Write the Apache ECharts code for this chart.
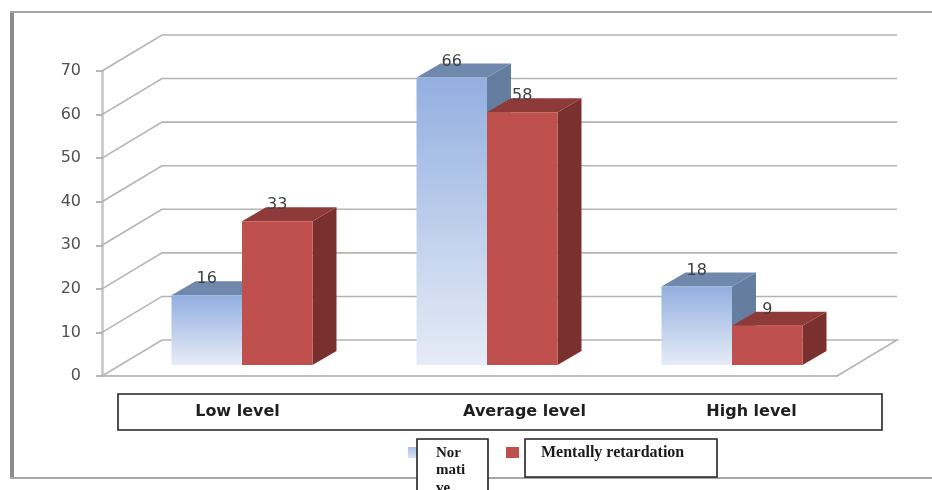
<!DOCTYPE html>
<html>
<head>
<meta charset="utf-8">
<style>html,body{margin:0;padding:0;background:#fff}#chart{width:932px;height:490px}</style>
<script src="https://cdn.jsdelivr.net/npm/echarts@6/dist/echarts.min.js"></script>
</head>
<body>
<div id="chart"></div>
<script>
// Scores per level for the two groups
const categories = ['Low level', 'Average level', 'High level'];
const normativeValues = [16, 66, 18];
const retardationValues = [33, 58, 9];
const normativeLines = ['Nor', 'mati', 've'];
const retardationName = 'Mentally retardation';
const wallTicks = [0, 10, 20, 30, 40, 50, 60, 70];
// Horizontal nudge of each category label inside its box, in pixels
const labelShift = [13, 55, 37];

// Oblique projection of the box: wall depth, and the depth at which the bars stand
const WALL = { dx: 60, dy: -36 };
const STAND = { dx: 17.5, dy: -11 };
const DEPTH = { dx: 24, dy: -14 };
const BAR_W = 70.5;

const chart = echarts.init(document.getElementById('chart'), null, { renderer: 'canvas' });

function linear(top, bottom) {
  return { type: 'linear', x: 0, y: 0, x2: 0, y2: 1,
    colorStops: [{ offset: 0, color: top }, { offset: 1, color: bottom }] };
}

// One oblique bar: front, top and side faces plus its value label
function barRenderer(side, front, topFace, sideFace) {
  return function (params, api) {
    const idx = api.value(0), val = api.value(1);
    const p = api.coord([idx, val]);
    const base = api.coord([idx, 0]);
    const x0 = p[0] + STAND.dx + (side < 0 ? -BAR_W : 0);
    const x1 = x0 + BAR_W;
    const yT = p[1] + STAND.dy;
    const yB = base[1] + STAND.dy;
    const d = DEPTH;
    return {
      type: 'group',
      children: [
        { type: 'polygon', shape: { points: [[x1, yT], [x1 + d.dx, yT + d.dy], [x1 + d.dx, yB + d.dy], [x1, yB]] },
          style: { fill: sideFace } },
        { type: 'polygon', shape: { points: [[x0, yT], [x0 + d.dx, yT + d.dy], [x1 + d.dx, yT + d.dy], [x1, yT]] },
          style: { fill: topFace } },
        { type: 'rect', shape: { x: x0, y: yT, width: BAR_W, height: yB - yT },
          style: { fill: front } },
        { type: 'text', z2: 50, style: { x: (x0 + x1) / 2, y: yT - 16, text: String(val),
            align: 'center', verticalAlign: 'middle', fill: '#404040',
            font: '16px "DejaVu Sans"' } }
      ]
    };
  };
}

// Back wall and floor lines running from the value axis
function wallRenderer(params, api) {
  const cs = params.coordSys;
  const y = api.coord([0, api.value(0)])[1];
  const left = cs.x, right = cs.x + cs.width;
  const pts = [[left, y], [left + WALL.dx, y + WALL.dy], [right + WALL.dx, y + WALL.dy]];
  if (api.value(0) === 0) pts.push([right, y]);
  return { type: 'polyline', shape: { points: pts },
    style: { fill: null, stroke: '#b4b4b4', lineWidth: 1.6 } };
}

const blueFront = linear('#93afe0', '#e6ecf7');
const redFront = '#c0504d';

chart.setOption({
  animation: false,
  backgroundColor: '#ffffff',
  grid: { left: 102, right: 95, top: 71, bottom: 114 },
  xAxis: {
    type: 'category',
    data: categories.map((c, i) => ({
      value: c,
      textStyle: { padding: [0, 0, 0, labelShift[i] * 2] }
    })),
    axisLine: { lineStyle: { color: '#bdbdbd', width: 2 } },
    axisTick: { length: 5, lineStyle: { color: '#a0a0a0', width: 1.5 } },
    axisLabel: { margin: 28, color: '#1f1f1f', fontWeight: 'bold', fontSize: 16,
      fontFamily: '"DejaVu Sans"' }
  },
  yAxis: {
    type: 'value', min: 0, max: 70, interval: 10,
    splitLine: { show: false },
    axisLine: { show: true, lineStyle: { color: '#c4c4c4', width: 2.5 } },
    axisTick: { show: true, length: 6, lineStyle: { color: '#a0a0a0', width: 1.5 } },
    axisLabel: { margin: 21, color: '#505050', fontSize: 16, padding: [3, 0, 0, 0],
      fontFamily: '"DejaVu Sans"' }
  },
  legend: [
    { data: ['Normative'], left: 408, top: 447, itemWidth: 13, itemHeight: 11, icon: 'rect',
      selectedMode: false, formatter: () => '', padding: 0 },
    { data: [retardationName], left: 506, top: 447, itemWidth: 13, itemHeight: 11, icon: 'rect',
      selectedMode: false, formatter: () => '', padding: 0 }
  ],
  graphic: [
    // Outer frame: heavy left edge, thin top and bottom rules
    { type: 'rect', z: 1, shape: { x: 10, y: 11, width: 4, height: 467 }, style: { fill: '#8c8c8c' } },
    { type: 'rect', z: 1, shape: { x: 10, y: 11, width: 922, height: 2 }, style: { fill: '#a6a6a6' } },
    { type: 'rect', z: 1, shape: { x: 10, y: 477, width: 922, height: 2 }, style: { fill: '#a6a6a6' } },
    // Box around the category labels
    { type: 'rect', z: 1, shape: { x: 118, y: 394, width: 764, height: 36 },
      style: { fill: 'none', stroke: '#222222', lineWidth: 1.6 } },
    // Boxes holding the group names
    { type: 'rect', z: 100, shape: { x: 417, y: 439, width: 71, height: 60 },
      style: { fill: '#ffffff', stroke: '#222222', lineWidth: 1.6 } },
    ...normativeLines.map((line, i) => ({
      type: 'text', z: 101, style: { x: 436, y: 453 + i * 17.5, text: line, verticalAlign: 'middle',
        fill: '#1a1a1a', font: 'bold 15px "Liberation Serif"' }
    })),
    { type: 'rect', z: 100, shape: { x: 525, y: 439, width: 192, height: 38 },
      style: { fill: '#ffffff', stroke: '#222222', lineWidth: 1.6 } },
    { type: 'text', z: 101, style: { x: 541, y: 453, text: retardationName, verticalAlign: 'middle',
        fill: '#1a1a1a', font: 'bold 16px "Liberation Serif"' } }
  ],
  series: [
    { type: 'custom', name: 'walls', silent: true, clip: false, z: 1,
      data: wallTicks.map(v => [v]), encode: { y: 0 }, renderItem: wallRenderer },
    { type: 'custom', name: 'Normative', clip: false, z: 2,
      itemStyle: { color: linear('#a9c0e8', '#d8e2f3') },
      data: normativeValues.map((v, i) => [i, v]),
      encode: { x: 0, y: 1 },
      renderItem: barRenderer(-1, blueFront, '#6f88ab', '#657e9f') },
    { type: 'custom', name: retardationName, clip: false, z: 3,
      itemStyle: { color: redFront },
      data: retardationValues.map((v, i) => [i, v]),
      encode: { x: 0, y: 1 },
      renderItem: barRenderer(1, redFront, '#8e3a38', '#7a302e') }
  ]
});
</script>
</body>
</html>
